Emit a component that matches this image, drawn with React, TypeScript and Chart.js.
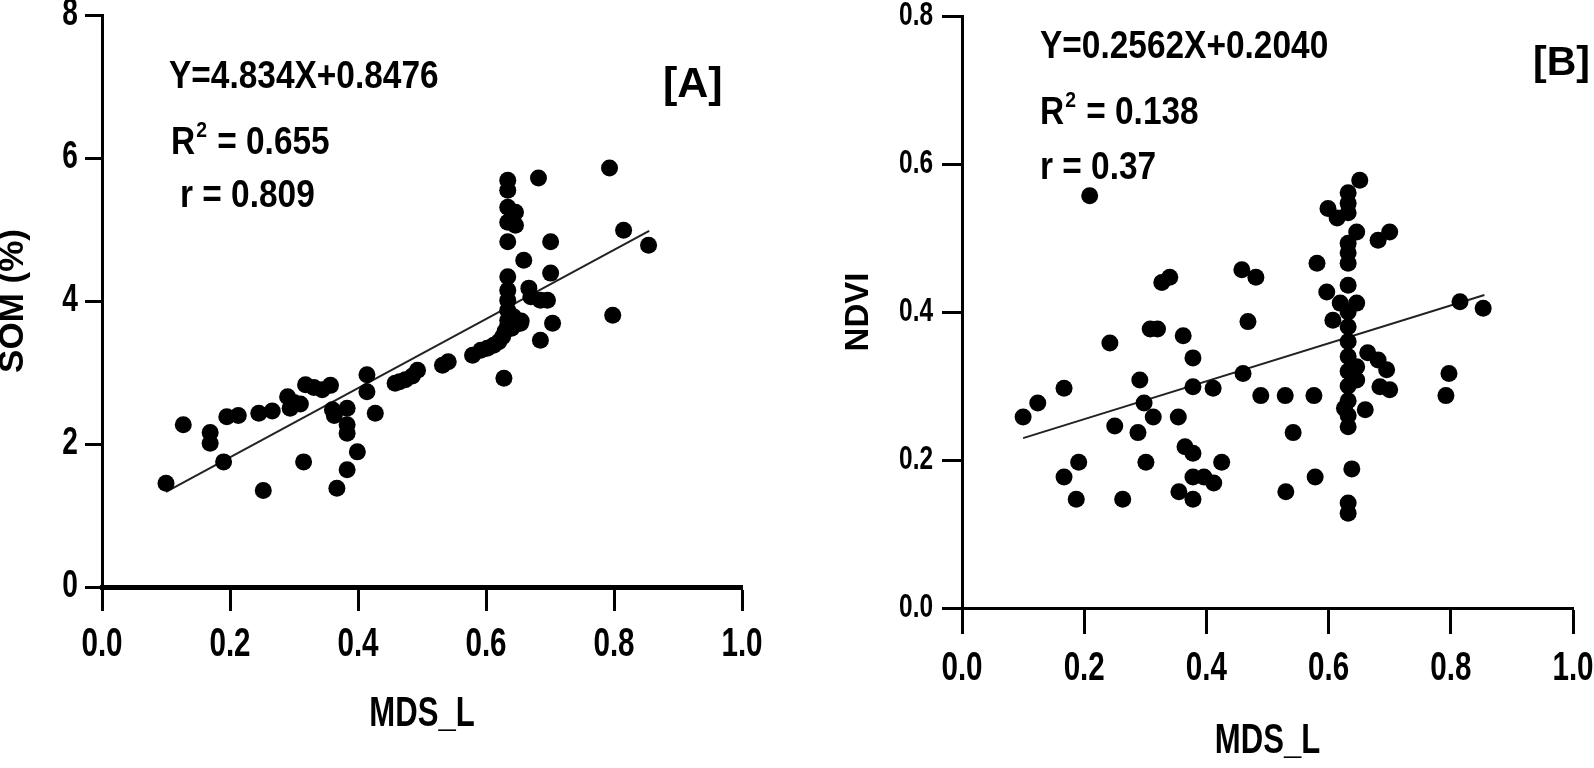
import React, { useEffect, useRef } from 'react';
import { Chart, registerables } from 'chart.js';

Chart.register(...registerables);

// ---------- data ----------
const somX = [
  0.1, 0.127, 0.169, 0.169, 0.19, 0.195, 0.213, 0.245, 0.252, 0.266,
  0.29, 0.294, 0.3, 0.31, 0.315, 0.318, 0.331, 0.344, 0.357, 0.36,
  0.363, 0.367, 0.383, 0.383, 0.383, 0.383, 0.399, 0.414, 0.414, 0.427,
  0.458, 0.465, 0.474, 0.485, 0.493, 0.532, 0.541, 0.579, 0.592, 0.602,
  0.612, 0.62, 0.628, 0.626, 0.63, 0.634, 0.64, 0.648, 0.655, 0.634,
  0.634, 0.634, 0.634, 0.634, 0.634, 0.634, 0.634, 0.634, 0.634, 0.646,
  0.646, 0.643, 0.654, 0.659, 0.667, 0.67, 0.685, 0.696, 0.701, 0.701,
  0.682, 0.704, 0.685, 0.793, 0.798, 0.815, 0.854,
];
const somY = [
  1.45, 2.27, 2.16, 2.01, 1.75, 2.38, 2.4, 2.43, 1.35, 2.46,
  2.66, 2.5, 2.58, 2.56, 1.75, 2.83, 2.79, 2.76, 2.82, 2.48,
  2.4, 1.38, 2.5, 2.27, 2.15, 1.64, 1.89, 2.97, 2.73, 2.43,
  2.85, 2.87, 2.9, 2.95, 3.03, 3.1, 3.15, 3.24, 3.31, 3.34,
  3.38, 3.43, 2.92, 3.5, 3.58, 3.65, 3.62, 3.68, 3.72, 3.73,
  3.87, 4.01, 4.15, 4.34, 4.83, 5.1, 5.31, 5.55, 5.69, 5.24,
  5.06, 3.78, 3.69, 4.57, 4.18, 4.06, 4.01, 4.01, 4.39, 4.83,
  5.72, 3.69, 3.45, 5.86, 3.8, 4.99, 4.78,
];

const ndviX = [
  0.1, 0.124, 0.167, 0.167, 0.187, 0.191, 0.209, 0.242, 0.25, 0.263,
  0.288, 0.291, 0.298, 0.301, 0.308, 0.32, 0.313, 0.327, 0.34, 0.354,
  0.355, 0.362, 0.365, 0.378, 0.378, 0.378, 0.378, 0.378, 0.396, 0.411,
  0.412, 0.425, 0.458, 0.46, 0.468, 0.481, 0.489, 0.529, 0.53, 0.542,
  0.576, 0.578, 0.581, 0.597, 0.599, 0.607, 0.614, 0.619, 0.632, 0.632,
  0.632, 0.632, 0.632, 0.632, 0.632, 0.632, 0.632, 0.632, 0.632, 0.632,
  0.632, 0.632, 0.632, 0.632, 0.638, 0.632, 0.632, 0.626, 0.646, 0.646,
  0.646, 0.646, 0.651, 0.66, 0.664, 0.681, 0.695, 0.681, 0.7, 0.684,
  0.7, 0.792, 0.797, 0.815, 0.853,
];
const ndviY = [
  0.258, 0.277, 0.297, 0.177, 0.147, 0.197, 0.557, 0.358, 0.246, 0.147,
  0.237, 0.308, 0.277, 0.197, 0.377, 0.377, 0.258, 0.44, 0.447, 0.258,
  0.157, 0.368, 0.218, 0.338, 0.299, 0.209, 0.177, 0.147, 0.177, 0.297,
  0.169, 0.197, 0.457, 0.317, 0.387, 0.447, 0.287, 0.287, 0.157, 0.237,
  0.287, 0.177, 0.466, 0.427, 0.54, 0.389, 0.527, 0.412, 0.561, 0.547,
  0.534, 0.493, 0.48, 0.466, 0.436, 0.4, 0.38, 0.36, 0.34, 0.32,
  0.3, 0.28, 0.26, 0.245, 0.188, 0.142, 0.128, 0.27, 0.508, 0.412,
  0.326, 0.308, 0.578, 0.268, 0.345, 0.335, 0.322, 0.497, 0.508, 0.299,
  0.295, 0.287, 0.317, 0.414, 0.405,
];

const xTickValues = [0, 0.2, 0.4, 0.6, 0.8, 1.0];
const somTickValues = [0, 2, 4, 6, 8];
const ndviTickValues = [0, 0.2, 0.4, 0.6, 0.8];

// regression lines as printed in the figure
const fitA = { slope: 4.834, intercept: 0.8476, from: 0.1, to: 0.855 };
const fitB = { slope: 0.2562, intercept: 0.204, from: 0.1, to: 0.855 };

const textA = { eq: 'Y=4.834X+0.8476', r2: '0.655', r: 'r = 0.809', tag: '[A]' };
const textB = { eq: 'Y=0.2562X+0.2040', r2: '0.138', r: 'r = 0.37', tag: '[B]' };

const xTitle = 'MDS_L';
const yTitleA = 'SOM (%)';
const yTitleB = 'NDVI';

// ---------- styling ----------
// "Narrow" marks text that is horizontally squeezed (emulates Arial Narrow)
const NARROW = "'Liberation Sans Narrow', 'Liberation Sans', Arial, sans-serif";
const WIDE = "'Liberation Sans', Arial, 'DejaVu Sans', sans-serif";
const NARROW_SCALE = 0.74;
const ANNOT_SCALE = 0.88;
const TICK_WEIGHT = 600;

type PanelCfg = {
  xs: number[];
  ys: number[];
  fit: { slope: number; intercept: number; from: number; to: number };
  yTicks: number[];
  yDigits: number;
  yTitle: string;
  txt: { eq: string; r2: string; r: string; tag: string };
  area: { left: number; right: number; top: number; bottom: number };
  xBorder: number;
  yBorder: number;
  yTickLen: number;
  xTickLen: number;
  yTickFont: number;
  xTickFont: number;
  yTickPad: number;
  xTickPad: number;
  yTitleFont: number;
  yTitlePad: number;
  xTitlePad: number;
  pos: { eq: [number, number]; r2: [number, number]; r: [number, number]; tag: [number, number] };
  eqFont: number;
  tagFont: number;
};

const W = 797;
const H = 768;

const panelA: PanelCfg = {
  xs: somX,
  ys: somY,
  fit: fitA,
  yTicks: somTickValues,
  yDigits: 0,
  yTitle: yTitleA,
  txt: textA,
  area: { left: 102, right: 742, top: 15, bottom: 587 },
  xBorder: 5,
  yBorder: 3,
  yTickLen: 17,
  xTickLen: 24,
  yTickFont: 38,
  xTickFont: 40,
  yTickPad: 7,
  xTickPad: 10,
  yTitleFont: 35,
  yTitlePad: -4,
  xTitlePad: 33,
  pos: { eq: [169, 78], r2: [171, 144], r: [180, 197], tag: [663, 85] },
  eqFont: 38,
  tagFont: 43,
};

const panelB: PanelCfg = {
  xs: ndviX,
  ys: ndviY,
  fit: fitB,
  yTicks: ndviTickValues,
  yDigits: 1,
  yTitle: yTitleB,
  txt: textB,
  area: { left: 165, right: 776, top: 16, bottom: 608 },
  xBorder: 3,
  yBorder: 3,
  yTickLen: 20,
  xTickLen: 26,
  yTickFont: 33,
  xTickFont: 40,
  yTickPad: 9,
  xTickPad: 11,
  yTitleFont: 33,
  yTitlePad: 45,
  xTitlePad: 6,
  pos: { eq: [243, 48], r2: [243, 114], r: [243, 169], tag: [736, 64] },
  eqFont: 38,
  tagFont: 41,
};

function patchCtx(ctx: any) {
  if (ctx.__squeezed) return;
  const orig = ctx.fillText.bind(ctx);
  ctx.fillText = (text: string, x: number, y: number, maxWidth?: number) => {
    if (/Narrow/.test(ctx.font)) {
      const w = ctx.measureText(text).width * NARROW_SCALE;
      const mw = maxWidth !== undefined && maxWidth !== null ? Math.min(maxWidth, w) : w;
      orig(text, x, y, mw);
    } else if (maxWidth !== undefined && maxWidth !== null) {
      orig(text, x, y, maxWidth);
    } else {
      orig(text, x, y);
    }
  };
  ctx.__squeezed = true;
}

function sq(ctx: CanvasRenderingContext2D, t: string, x: number, y: number) {
  const w = ctx.measureText(t).width * ANNOT_SCALE;
  ctx.fillText(t, x, y, w);
  return w;
}

function drawTexts(chart: any, p: PanelCfg) {
  const ctx = chart.ctx as CanvasRenderingContext2D;
  ctx.save();
  ctx.fillStyle = '#000';
  ctx.textBaseline = 'middle';
  ctx.textAlign = 'left';
  const f = `bold ${p.eqFont}px ${WIDE}`;
  ctx.font = f;
  sq(ctx, p.txt.eq, p.pos.eq[0], p.pos.eq[1]);
  // R² line
  const [rx, ry] = p.pos.r2;
  const rw = sq(ctx, 'R', rx, ry);
  ctx.font = `bold ${Math.round(p.eqFont * 0.58)}px ${WIDE}`;
  const sw = sq(ctx, '2', rx + rw + 1, ry - p.eqFont * 0.34);
  ctx.font = f;
  sq(ctx, ' = ' + p.txt.r2, rx + rw + sw + 2, ry);
  sq(ctx, p.txt.r, p.pos.r[0], p.pos.r[1]);
  ctx.font = `bold ${p.tagFont}px ${WIDE}`;
  ctx.fillText(p.txt.tag, p.pos.tag[0], p.pos.tag[1]);
  ctx.restore();
}

function makeChart(canvas: HTMLCanvasElement, p: PanelCfg) {
  const pts = p.xs.map((x, i) => ({ x, y: p.ys[i] }));
  const line = [
    { x: p.fit.from, y: p.fit.slope * p.fit.from + p.fit.intercept },
    { x: p.fit.to, y: p.fit.slope * p.fit.to + p.fit.intercept },
  ];
  const yMax = p.yTicks[p.yTicks.length - 1];
  const yStep = p.yTicks[1] - p.yTicks[0];
  return new Chart(canvas, {
    type: 'scatter',
    data: {
      datasets: [
        {
          type: 'line',
          data: line,
          borderColor: '#222',
          borderWidth: 2,
          pointRadius: 0,
          fill: false,
          order: 2,
        } as any,
        {
          data: pts,
          backgroundColor: '#000',
          borderColor: '#000',
          borderWidth: 0,
          pointRadius: 8.5,
          pointHoverRadius: 8.5,
          order: 1,
        },
      ],
    },
    options: {
      animation: false,
      responsive: false,
      maintainAspectRatio: false,
      events: [],
      layout: {
        padding: { left: 0, top: p.area.top, right: W - p.area.right, bottom: 0 },
      },
      plugins: { legend: { display: false }, tooltip: { enabled: false } },
      scales: {
        x: {
          type: 'linear',
          min: 0,
          max: 1,
          afterBuildTicks: (s: any) => {
            s.ticks = xTickValues.map((v) => ({ value: v }));
          },
          afterFit: (s: any) => {
            s.height = H - p.area.bottom;
            s.paddingLeft = 0;
            s.paddingRight = 0;
          },
          grid: {
            display: true,
            drawOnChartArea: false,
            drawTicks: true,
            tickLength: p.xTickLen,
            tickWidth: 3,
            tickColor: '#000',
            color: '#000',
          },
          border: { display: true, color: '#000', width: p.xBorder },
          ticks: {
            color: '#000',
            padding: p.xTickPad,
            maxRotation: 0,
            autoSkip: false,
            font: { family: NARROW, size: p.xTickFont, weight: TICK_WEIGHT },
            callback: (v: any) => Number(v).toFixed(1),
          },
          title: {
            display: true,
            text: xTitle,
            color: '#000',
            font: { family: NARROW, size: 42, lineHeight: 1, weight: TICK_WEIGHT },
            padding: { top: 0, bottom: p.xTitlePad },
          },
        },
        y: {
          type: 'linear',
          min: 0,
          max: yMax,
          afterBuildTicks: (s: any) => {
            s.ticks = p.yTicks.map((v) => ({ value: v }));
          },
          afterFit: (s: any) => {
            s.width = p.area.left;
            s.paddingTop = 0;
            s.paddingBottom = 0;
          },
          grid: {
            display: true,
            drawOnChartArea: false,
            drawTicks: true,
            tickLength: p.yTickLen,
            tickWidth: 3,
            tickColor: '#000',
            color: '#000',
          },
          border: { display: true, color: '#000', width: p.yBorder },
          ticks: {
            color: '#000',
            padding: p.yTickPad,
            stepSize: yStep,
            autoSkip: false,
            font: { family: NARROW, size: p.yTickFont, weight: TICK_WEIGHT },
            callback: (v: any) => Number(v).toFixed(p.yDigits),
          },
          title: {
            display: true,
            text: p.yTitle,
            color: '#000',
            font: { family: WIDE, size: p.yTitleFont, weight: 'bold', lineHeight: 1 },
            padding: { top: p.yTitlePad, bottom: 0 },
          },
        },
      },
    },
    plugins: [
      {
        id: 'narrowText',
        beforeDraw: (chart: any) => patchCtx(chart.ctx),
      },
      {
        id: 'statText',
        afterDraw: (chart: any) => drawTexts(chart, p),
      },
    ],
  } as any);
}

function PanelView({ p, left }: { p: PanelCfg; left: number }) {
  const ref = useRef<HTMLCanvasElement | null>(null);
  useEffect(() => {
    if (!ref.current) return;
    const c = makeChart(ref.current, p);
    return () => c.destroy();
  }, []);
  return (
    <div style={{ position: 'absolute', left, top: 0, width: W, height: H }}>
      <canvas ref={ref} width={W} height={H} style={{ width: W, height: H, display: 'block' }} />
    </div>
  );
}

export default function App() {
  return (
    <div style={{ position: 'fixed', left: 0, top: 0, width: 1594, height: 768, background: '#fff', overflow: 'hidden' }}>
      <PanelView p={panelA} left={0} />
      <PanelView p={panelB} left={797} />
    </div>
  );
}
